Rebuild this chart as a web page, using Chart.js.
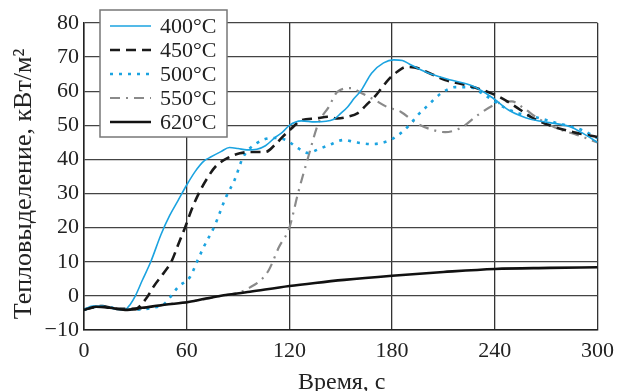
<!DOCTYPE html>
<html>
<head>
<meta charset="utf-8">
<title>Тепловыделение</title>
<script src="https://cdn.jsdelivr.net/npm/chart.js@4.4.1/dist/chart.umd.min.js"></script>
<style>
  html, body { margin: 0; padding: 0; background: #fff; }
  canvas { display: block; }
</style>
</head>
<body>
<canvas id="heatChart" width="622" height="391"></canvas>
<script>
// Values (time in s, heat release in kW/m2)
const seriesLabels = ['400°C', '450°C', '500°C', '550°C', '620°C'];

const t400 = [0, 5, 10, 15, 20, 24, 27, 30, 34, 39, 45, 50, 55, 60, 65, 70, 74, 80, 85, 90, 95, 101, 106, 112, 116, 120, 127, 135, 146, 150, 154, 158, 162, 168, 175, 181, 186, 190, 198, 204, 215, 227, 238, 248, 255, 261, 272, 284, 292, 300];
const v400 = [-4, -3, -3, -3.5, -4, -4, -2.5, 0, 4.5, 10, 18, 23.5, 28, 32.5, 36.5, 39.5, 40.7, 42.3, 43.5, 43.2, 42.8, 43, 44, 46.6, 48, 50, 51.3, 51, 51.8, 53.5, 55.4, 58, 60.3, 65.3, 68.3, 69.2, 69, 68, 66, 64.8, 63.2, 61.5, 58.3, 54.5, 52.8, 51.8, 50.8, 49.6, 47.5, 45];

const t450 = [0, 10, 20, 30, 36, 41, 47, 51, 55, 59, 63, 67, 72, 77, 85, 91, 97, 102, 106, 111, 116, 121, 127, 135, 143, 148, 154, 160, 165, 170, 174, 178, 183, 188, 193, 200, 211, 223, 236, 242, 248, 255, 261, 272, 286, 300];
const v450 = [-4, -3, -3.8, -3.8, -1, 3, 7, 10, 15, 20, 25.5, 30, 34.5, 38, 40.7, 41.8, 42.2, 42.2, 42.2, 44, 46.6, 49, 51.5, 52, 52.5, 52, 52.5, 53.6, 56, 58.5, 61, 63.5, 65.7, 67.1, 67, 65.7, 63.3, 61.8, 59.8, 58.5, 56.8, 54.5, 52.5, 50, 48, 46.6];

const t500 = [0, 10, 20, 30, 40, 47, 51, 55, 62, 66, 70, 76, 83, 88, 93, 101, 110, 118, 125, 131, 137, 143, 152, 158, 168, 179, 185, 190, 195, 200, 209, 217, 225, 234, 245, 254, 263, 276, 291, 300];
const v500 = [-4, -3, -3.8, -4, -3.5, -2.3, 0, 2.6, 5.6, 10, 14.4, 20.2, 29, 34, 40.7, 44.8, 46.3, 45.7, 43.3, 41.9, 43, 44.2, 45.7, 45.1, 44.5, 45.7, 47.7, 50, 53, 55.4, 59.5, 61.2, 61.2, 58.9, 55.4, 53.5, 52.5, 50.7, 48.6, 46.2];

const t550 = [0, 10, 20, 30, 40, 50, 60, 70, 80, 90, 97, 103, 108, 114, 120, 125, 131, 137, 143, 148, 156, 162, 170, 177, 185, 194, 204, 211, 221, 230, 242, 250, 257, 265, 276, 288, 300];
const v550 = [-4, -3, -3.8, -4, -3.2, -2.4, -1.8, -1, 0, 0.9, 2.5, 4.5, 7.6, 14.4, 20, 30, 40.7, 50.7, 55.4, 59.8, 60.9, 59.5, 57.4, 55.4, 54, 50.7, 48.6, 48, 49.5, 53, 56.5, 57, 55, 52.1, 49.2, 47.2, 45];

const t620 = [0, 7, 15, 24, 34, 47, 61, 76, 97, 120, 135, 152, 180, 210, 240, 272, 300];
const v620 = [-4.1, -3.2, -3.5, -4.1, -3.5, -2.6, -1.8, -0.3, 1.2, 2.9, 3.8, 4.7, 5.9, 7, 7.9, 8.2, 8.4];

const xTicks = [0, 60, 120, 180, 240, 300];
const yTicks = [-10, 0, 10, 20, 30, 40, 50, 60, 70, 80];

const FONT = "'Liberation Serif', 'Times New Roman', serif";
const BLUE = '#1ba3e0';

function toPoints(ts, vs) {
    return ts.map((t, i) => ({ x: t, y: vs[i] }));
}

// Legend drawn as a framed box over the top-left corner of the plot
const boxLegend = {
    id: 'boxLegend',
    afterDraw(chart) {
        const ctx = chart.ctx;
        ctx.save();
        ctx.fillStyle = '#fff';
        ctx.fillRect(100, 10, 127, 127);
        ctx.strokeStyle = '#777';
        ctx.lineWidth = 1.5;
        ctx.strokeRect(100, 10, 127, 127);
        ctx.font = '22px ' + FONT;
        ctx.textBaseline = 'middle';
        chart.data.datasets.forEach((ds, i) => {
            const y = 26 + i * 24;
            ctx.beginPath();
            ctx.strokeStyle = ds.borderColor;
            ctx.lineWidth = ds.borderWidth;
            ctx.setLineDash(ds.borderDash || []);
            ctx.moveTo(110, y);
            ctx.lineTo(151, y);
            ctx.stroke();
            ctx.setLineDash([]);
            ctx.fillStyle = '#222';
            ctx.fillText(ds.label, 160, y + 1);
        });
        ctx.restore();
    }
};

// Axis titles
const axisTitles = {
    id: 'axisTitles',
    afterDraw(chart) {
        const ctx = chart.ctx;
        const area = chart.chartArea;
        ctx.save();
        ctx.fillStyle = '#222';
        ctx.textAlign = 'center';
        ctx.font = '24px ' + FONT;
        ctx.textBaseline = 'alphabetic';
        ctx.fillText('Время, с', (area.left + area.right) / 2 + 1, 389);
        ctx.font = '26px ' + FONT;
        ctx.textBaseline = 'middle';
        ctx.translate(24, 184);
        ctx.rotate(-Math.PI / 2);
        ctx.fillText('Тепловыделение, кВт/м²', 0, 0);
        ctx.restore();
    }
};

const ctx = document.getElementById('heatChart').getContext('2d');
new Chart(ctx, {
    type: 'line',
    data: {
        datasets: [
            { label: seriesLabels[0], data: toPoints(t400, v400), borderColor: BLUE, borderWidth: 1.6 },
            { label: seriesLabels[1], data: toPoints(t450, v450), borderColor: '#1a1a1a', borderWidth: 2.6, borderDash: [10, 6] },
            { label: seriesLabels[2], data: toPoints(t500, v500), borderColor: BLUE, borderWidth: 2.6, borderDash: [3, 6] },
            { label: seriesLabels[3], data: toPoints(t550, v550), borderColor: '#8a8a8a', borderWidth: 2.2, borderDash: [10, 6, 2, 6] },
            { label: seriesLabels[4], data: toPoints(t620, v620), borderColor: '#111', borderWidth: 2.6, order: -1 }
        ]
    },
    options: {
        responsive: false,
        animation: false,
        parsing: false,
        elements: {
            point: { radius: 0 },
            line: { cubicInterpolationMode: 'monotone', fill: false }
        },
        layout: { padding: { left: 0, right: 14, top: 23, bottom: 0 } },
        plugins: {
            legend: { display: false },
            tooltip: { enabled: false }
        },
        scales: {
            x: {
                type: 'linear',
                min: 0,
                max: 300,
                afterBuildTicks: axis => { axis.ticks = xTicks.map(v => ({ value: v })); },
                afterFit: axis => { axis.height = 61; },
                grid: { color: '#333', lineWidth: 1.3, drawTicks: false },
                border: { color: '#222', width: 1.5 },
                ticks: { color: '#222', padding: 8, font: { family: FONT, size: 22 } }
            },
            y: {
                min: -10,
                max: 80,
                afterBuildTicks: axis => { axis.ticks = yTicks.map(v => ({ value: v })); },
                afterFit: axis => { axis.width = 84; },
                grid: { color: '#444', lineWidth: 1.3, drawTicks: false },
                border: { color: '#222', width: 1.5 },
                ticks: {
                    color: '#222',
                    padding: 5,
                    font: { family: FONT, size: 22 },
                    callback: v => String(v).replace('-', '\u2212')
                }
            }
        }
    },
    plugins: [boxLegend, axisTitles]
});
</script>
</body>
</html>
